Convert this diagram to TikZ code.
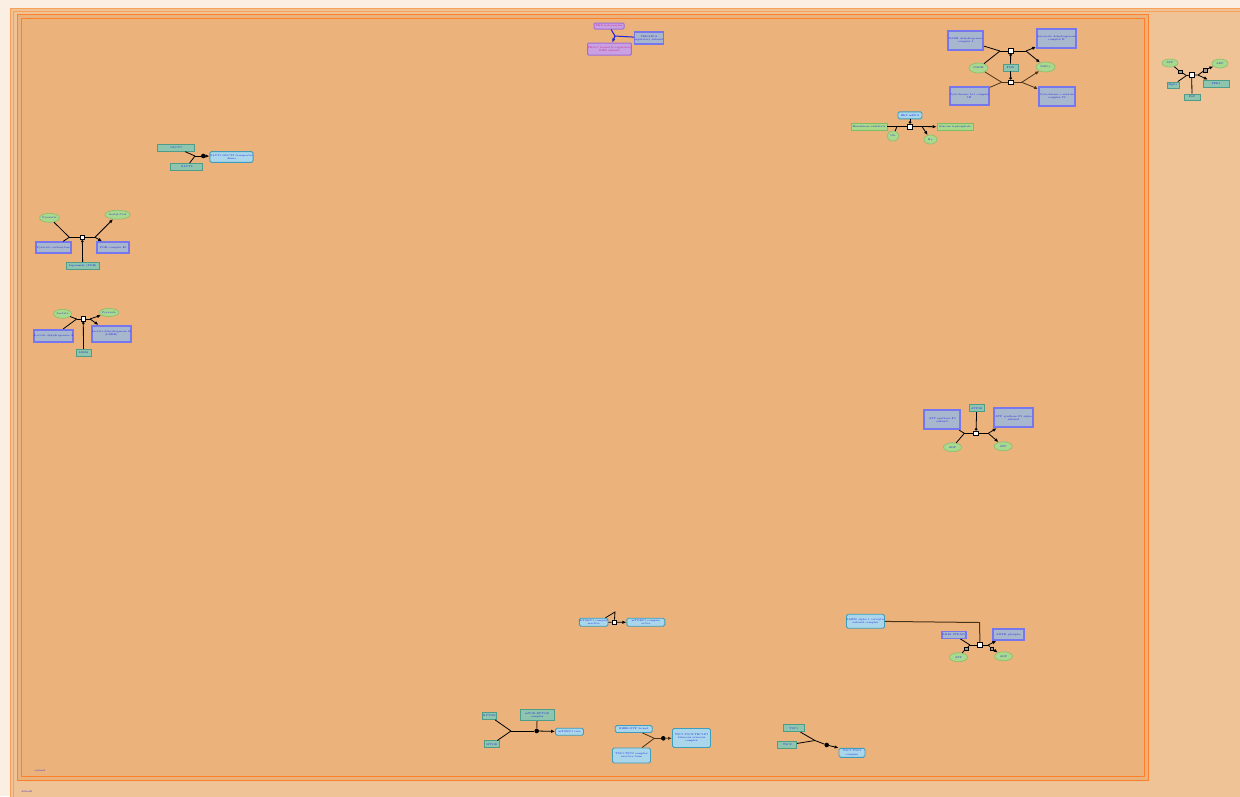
\documentclass[tikz,border=0pt]{standalone}
\usepackage{tikz}
\usepackage{xcolor}
\usetikzlibrary{shapes.geometric,arrows.meta}

\definecolor{pagefill}{HTML}{FBEFE4}
\definecolor{outerfill}{HTML}{F0C396}
\definecolor{outerline}{HTML}{F7A056}
\definecolor{innerfill}{HTML}{EBB27B}
\definecolor{innerline}{HTML}{FF7F2A}
\definecolor{labelblue}{HTML}{1C1CE0}
\definecolor{smfill}{HTML}{A8D98E}
\definecolor{smborder}{HTML}{86BE6C}
\definecolor{protfill}{HTML}{8DC5AE}
\definecolor{protborder}{HTML}{4F9C88}
\definecolor{rnafill}{HTML}{A9D6EA}
\definecolor{rnaborder}{HTML}{3F9CBA}
\definecolor{cplxfill}{HTML}{A7B7CD}
\definecolor{cplxborder}{HTML}{7676EE}
\definecolor{purpfill}{HTML}{C9A0E2}
\definecolor{purpborder}{HTML}{A06ED8}
\definecolor{purptext}{HTML}{C0208A}
\definecolor{lgfill}{HTML}{A9D98C}
\definecolor{lgborder}{HTML}{7DBE63}
\definecolor{linkgrey}{HTML}{9A9A9A}
\definecolor{rxnbrown}{HTML}{4A3418}
\definecolor{rxnblue}{HTML}{2020E0}

\begin{document}
\begin{tikzpicture}[x=1pt,y=-1pt,
    >={Latex[length=4pt,width=3.4pt]},
    every node/.style={font=\fontsize{2.6}{3.1}\selectfont, text=labelblue, inner sep=0pt, align=center},
    simplemol/.style={ellipse, draw=smborder, fill=smfill, line width=0.6pt},
    protbox/.style={rectangle, draw=protborder, fill=protfill, line width=0.7pt},
    rnabox/.style={rectangle, rounded corners=1.5pt, draw=rnaborder, fill=rnafill, line width=0.9pt},
    cplxbox/.style={rectangle, draw=cplxborder, fill=cplxfill, line width=1.8pt},
    purpbox/.style={rectangle, rounded corners=1pt, draw=purpborder, fill=purpfill, line width=1pt, text=purptext},
    genebox/.style={rectangle, draw=lgborder, fill=lgfill, line width=0.6pt},
    procnode/.style={rectangle, draw=black, fill=white, line width=0.7pt, minimum size=4.8pt},
    linkbox/.style={rectangle, draw=black, fill=linkgrey, line width=0.4pt, minimum size=3.6pt},
    assocdot/.style={circle, fill=black, minimum size=4.6pt},
    rxn/.style={line width=0.8pt, draw=black},
    modif/.style={line width=0.8pt, draw=black, -{Circle[open,length=2.6pt]}}]
    \useasboundingbox (0,0) rectangle (1240,796);
    \clip (0,0) rectangle (1240,796);
    % compartments
    \fill [pagefill] (0,0) rectangle (1240,796);
    \fill [outerfill] (10,8) rectangle (1252,808);
    \draw [outerline,line width=0.8pt] (10,8) rectangle (1252,808);
    \draw [outerline,line width=0.8pt] (13,11) rectangle (1249,805);
    \fill [innerfill] (17,14) rectangle (1148,780);
    \draw [innerline,line width=0.9pt] (17,14) rectangle (1148,780);
    \draw [innerline,line width=0.9pt] (21,18) rectangle (1144,776);
    \node (lblin) at (40,771) {cytosol};
    \node (lblout) at (27,792) {default};

    % top centre
    \node[purpbox, minimum width=30pt, minimum height=6pt] (pa) at (609,26) {PKA holoenzyme};
    \node[purpbox, minimum width=35pt, minimum height=12pt] (pb) at (609.5,49) {PKA-C bound to regulatory\\RIIB subunit};
    \node[cplxbox, line width=1.3pt, minimum width=26pt, minimum height=12pt] (pc) at (649,38) {PRKAR1A\\regulatory subunit};
    \coordinate (ra) at (615,36);
    \draw[rxn, draw=rxnblue, line width=1pt] (pa) -- (ra);
    \draw[rxn, draw=rxnblue, line width=1pt] (pc) -- (ra);
    \draw[rxn, draw=rxnblue, line width=1.2pt, ->] (ra) -- (pb);

    % top right
    \node[cplxbox, minimum width=35pt, minimum height=19pt] (b1) at (965.5,40.5) {NADH dehydrogenase\\complex I};
    \node[cplxbox, minimum width=39pt, minimum height=19pt] (b2) at (1056.5,38.5) {Succinate dehydrogenase\\complex II};
    \node[cplxbox, minimum width=35pt, minimum height=18pt] (b3) at (969.5,96) {Cytochrome bc1 complex\\III};
    \node[cplxbox, minimum width=36pt, minimum height=19pt] (b4) at (1057,96.5) {Cytochrome c oxidase\\complex IV};
    \node[simplemol, minimum width=19pt, minimum height=10pt] (e1) at (978.5,68) {NADH};
    \node[simplemol, minimum width=19pt, minimum height=10pt] (e2) at (1045.5,67) {NAD+};
    \node[protbox, minimum width=15pt, minimum height=7pt] (t1) at (1010.5,67.5) {FMN};
    \node[procnode] (p1) at (1010.7,51) {};
    \coordinate (r1in) at (1000,51);
    \coordinate (r1out) at (1026,51);
    \draw[rxn] (b1) -- (r1in);
    \draw[rxn] (e1) -- (r1in);
    \draw[rxn] (r1in) -- (p1) -- (r1out);
    \draw[rxn,->] (r1out) -- (b2);
    \draw[rxn,->] (r1out) -- (e2);
    \draw[modif] (t1) -- (p1);
    \node[procnode] (p2) at (1010.7,82.3) {};
    \coordinate (r2in) at (1001.7,82.3);
    \coordinate (r2out) at (1021.7,82.3);
    \draw[rxn, draw=rxnbrown] (e1) -- (r2in);
    \draw[rxn, draw=rxnbrown] (b3) -- (r2in);
    \draw[rxn, draw=rxnbrown] (r2in) -- (p2) -- (r2out);
    \draw[rxn, draw=rxnbrown, ->] (r2out) -- (e2);
    \draw[rxn, draw=rxnbrown, ->] (r2out) -- (b4);
    \draw[modif] (t1) -- (p2);

    % far right
    \node[simplemol, minimum width=16pt, minimum height=8pt] (e3) at (1170,63) {ATP};
    \node[simplemol, minimum width=16pt, minimum height=9pt] (e4) at (1220,63.5) {ADP};
    \node[protbox, minimum width=12pt, minimum height=6pt] (t2) at (1173,85) {Mg2+};
    \node[protbox, minimum width=26pt, minimum height=7pt] (t3) at (1216,83.5) {PFK1};
    \node[protbox, minimum width=16pt, minimum height=6pt] (t4) at (1192,97) {F6P};
    \node[procnode] (p3) at (1191.7,75) {};
    \node[linkbox] (lk1) at (1180,71.5) {};
    \node[linkbox] (lk2) at (1205,70) {};
    \coordinate (r3in) at (1186.5,75.5);
    \coordinate (r3out) at (1198,75);
    \draw[rxn] (e3) -- (lk1) -- (r3in);
    \draw[rxn] (t2) -- (r3in);
    \draw[rxn] (r3in) -- (p3) -- (r3out);
    \draw[rxn] (r3out) -- (lk2);
    \draw[rxn,->] (lk2) -- (e4);
    \draw[rxn,->] (r3out) -- (t3);
    \draw[rxn] (t4) -- (p3);

    % middle right
    \node[genebox, minimum width=36pt, minimum height=7pt] (g1) at (869,126.5) {Hexokinase substrate};
    \node[genebox, minimum width=36pt, minimum height=7pt] (g2) at (955,127) {Glucose 6-phosphate};
    \node[rnabox, minimum width=24pt, minimum height=7pt] (rb1) at (910,115.3) {HK2 mRNA};
    \node[simplemol, minimum width=12pt, minimum height=10pt] (e5) at (893,136) {Glc};
    \node[simplemol, minimum width=13pt, minimum height=9pt] (e6) at (930.5,139.5) {H+};
    \node[procnode] (p4) at (910,126.5) {};
    \coordinate (r4in) at (897,126.5);
    \coordinate (r4out) at (922,126.5);
    \draw[rxn] (g1) -- (r4in) -- (p4) -- (r4out);
    \draw[rxn] (e5) -- (r4in);
    \draw[rxn,->] (r4out) -- (g2);
    \draw[rxn,->] (r4out) -- (e6);
    \draw[modif] (rb1) -- (p4);

    % left top
    \node[protbox, minimum width=37pt, minimum height=7pt] (t5) at (176.3,147.8) {GLUT1};
    \node[protbox, minimum width=32pt, minimum height=7pt] (t6) at (186.7,166.8) {GLUT3};
    \node[rnabox, minimum width=37pt, minimum height=10.7pt] (rb2) at (231.5,157) {GLUT1:GLUT3 transporter\\dimer};
    \coordinate (j1) at (195,156);
    \node[assocdot] (d1) at (203.3,156) {};
    \draw[rxn] (t5) -- (j1);
    \draw[rxn] (t6) -- (j1);
    \draw[rxn] (j1) -- (d1);
    \draw[rxn,->] (d1) -- (rb2);

    % left middle
    \node[simplemol, minimum width=19pt, minimum height=9pt] (e7) at (49.5,217.8) {Pyruvate};
    \node[simplemol, minimum width=18pt, minimum height=9pt] (e8) at (117.5,214.7) {Acetyl-CoA};
    \node[cplxbox, minimum width=35pt, minimum height=11pt] (b5) at (53.3,247.8) {Pyruvate carboxylase};
    \node[cplxbox, minimum width=32pt, minimum height=11pt] (b6) at (113.3,247.8) {PDH complex E1};
    \node[protbox, minimum width=33pt, minimum height=7pt] (t7) at (82.7,265.7) {Lipoamide (PDH)};
    \node[procnode] (p5) at (82.3,237.3) {};
    \coordinate (r5in) at (69.3,237.3);
    \coordinate (r5out) at (95,237.3);
    \draw[rxn] (e7) -- (r5in);
    \draw[rxn] (b5) -- (r5in);
    \draw[rxn] (r5in) -- (p5) -- (r5out);
    \draw[rxn,->] (r5out) -- (e8);
    \draw[rxn,->] (r5out) -- (b6);
    \draw[modif] (t7) -- (p5);

    % left lower
    \node[simplemol, minimum width=18pt, minimum height=9pt] (e9) at (62.5,313.8) {Lactate};
    \node[simplemol, minimum width=18pt, minimum height=8pt] (e10) at (109,312.5) {Pyruvate};
    \node[cplxbox, minimum width=36pt, minimum height=12pt] (b7) at (53.8,335.8) {Lactate dehydrogenase A};
    \node[cplxbox, minimum width=36pt, minimum height=16pt] (b8) at (111.3,333.8) {Lactate dehydrogenase B\\(LDHB)};
    \node[protbox, minimum width=15pt, minimum height=7pt] (t8) at (83.5,352.7) {LDHA};
    \node[procnode] (p6) at (83.3,319) {};
    \coordinate (r6in) at (76.7,319);
    \coordinate (r6out) at (90,319);
    \draw[rxn] (e9) -- (r6in);
    \draw[rxn] (b7) -- (r6in);
    \draw[rxn] (r6in) -- (p6) -- (r6out);
    \draw[rxn,->] (r6out) -- (e10);
    \draw[rxn,->] (r6out) -- (b8);
    \draw[modif] (t8) -- (p6);

    % right middle
    \node[cplxbox, minimum width=36pt, minimum height=19pt] (b9) at (942.2,419.7) {ATP synthase F0\\subunit};
    \node[cplxbox, minimum width=39pt, minimum height=19pt] (b10) at (1013.7,417.8) {ATP synthase F1 alpha\\subunit};
    \node[protbox, minimum width=15pt, minimum height=7pt] (t9) at (976.7,408.3) {ATP5B};
    \node[simplemol, minimum width=18pt, minimum height=9pt] (e11) at (952.5,447.2) {ADP};
    \node[simplemol, minimum width=18pt, minimum height=9pt] (e12) at (1003.2,446.3) {ATP};
    \node[procnode] (p7) at (976,433.3) {};
    \coordinate (r7in) at (964.3,433.3);
    \coordinate (r7out) at (988.3,433.3);
    \draw[rxn] (b9) -- (r7in);
    \draw[rxn] (e11) -- (r7in);
    \draw[rxn] (r7in) -- (p7) -- (r7out);
    \draw[rxn,->] (r7out) -- (b10);
    \draw[rxn,->] (r7out) -- (e12);
    \draw[modif] (t9) -- (p7);

    % bottom right
    \node[rnabox, minimum width=38pt, minimum height=14pt] (rb3) at (865.5,621.2) {AMPK alpha 1 catalytic\\subunit complex};
    \node[cplxbox, line width=1.4pt, minimum width=24pt, minimum height=7pt] (b11) at (953.8,634.7) {LKB1:STRAD};
    \node[cplxbox, line width=1.6pt, minimum width=31pt, minimum height=11pt] (b12) at (1008.3,634.5) {AMPK phospho};
    \node[simplemol, minimum width=18pt, minimum height=9pt] (e13) at (958.5,657.2) {ATP};
    \node[simplemol, minimum width=18pt, minimum height=9pt] (e14) at (1003.5,656.3) {ADP};
    \node[procnode] (p8) at (980,645) {};
    \node[linkbox] (lk3) at (966,648.5) {};
    \node[linkbox] (lk4) at (991.7,648.5) {};
    \coordinate (r8in) at (970,645);
    \coordinate (r8out) at (988.3,645);
    \coordinate (c8) at (979.5,622.5);
    \draw[rxn] (b11) -- (r8in);
    \draw[rxn] (e13) -- (lk3) -- (r8in);
    \draw[rxn] (r8in) -- (p8) -- (r8out);
    \draw[rxn,->] (r8out) -- (b12);
    \draw[rxn] (r8out) -- (lk4);
    \draw[rxn,->] (lk4) -- (e14);
    \draw[rxn, draw=rxnbrown, line width=1pt] (rb3) -- (c8) -- (p8);

    % bottom centre
    \node[rnabox, minimum width=27pt, minimum height=8pt] (rb4) at (593.7,622.2) {mTORC1 complex\\inactive};
    \node[rnabox, minimum width=38pt, minimum height=8pt] (rb5) at (645.8,622.2) {mTORC1 complex\\active};
    \node[procnode] (p9) at (614.3,622.3) {};
    \coordinate (c9) at (615,612);
    \draw[rxn] (rb4) -- (p9);
    \draw[rxn,->] (p9) -- (rb5);
    \draw[rxn] ([xshift=-3pt]rb4.north east) -- (c9) -- (p9);

    % bottom
    \node[protbox, minimum width=14pt, minimum height=7pt] (t10) at (489.5,716) {RPTOR};
    \node[protbox, minimum width=15pt, minimum height=7pt] (t11) at (491.8,744.3) {MTOR};
    \node[protbox, minimum width=34pt, minimum height=11pt] (t12) at (537.2,715.3) {mTOR:RPTOR\\complex};
    \node[rnabox, minimum width=28pt, minimum height=7pt] (rb6) at (569.5,731.7) {mTORC1 core};
    \coordinate (j2) at (511,731);
    \node[assocdot] (d2) at (536.7,731) {};
    \draw[rxn] (t10) -- (j2);
    \draw[rxn] (t11) -- (j2);
    \draw[rxn] (j2) -- (d2);
    \draw[rxn,->] (d2) -- (rb6);
    \draw[rxn, draw=rxnbrown, line width=1pt] (t12) -- (d2);

    \node[rnabox, minimum width=37pt, minimum height=7pt] (rb7) at (633.7,729) {RHEB:GTP bound};
    \node[rnabox, minimum width=38pt, minimum height=15pt] (rb8) at (631.5,755.5) {TSC1:TSC2 complex\\inactive form};
    \node[rnabox, minimum width=38pt, minimum height=19pt] (rb9) at (691.5,738) {TSC1:TSC2:TBC1D7\\tuberous sclerosis\\complex};
    \coordinate (j3) at (654.3,738.3);
    \node[assocdot] (d3) at (663.3,738.3) {};
    \draw[rxn, draw=rxnbrown] (rb7) -- (j3);
    \draw[rxn, draw=rxnbrown] (rb8) -- (j3);
    \draw[rxn, draw=rxnbrown] (j3) -- (d3);
    \draw[rxn, draw=rxnbrown, ->] (d3) -- (rb9);

    \node[protbox, minimum width=21pt, minimum height=7pt] (t13) at (793.8,728.3) {TSC1};
    \node[protbox, minimum width=19pt, minimum height=7pt] (t14) at (787.2,745) {TSC2};
    \node[rnabox, minimum width=26pt, minimum height=9pt] (rb10) at (852,752.8) {TSC1:TSC2\\complex};
    \coordinate (j4) at (815,740.5);
    \node[assocdot] (d4) at (826.7,745) {};
    \draw[rxn] (t13) -- (j4) -- (d4);
    \draw[rxn] (t14) -- (j4);
    \draw[rxn,->] (d4) -- (rb10.north west);
\end{tikzpicture}
\end{document}
